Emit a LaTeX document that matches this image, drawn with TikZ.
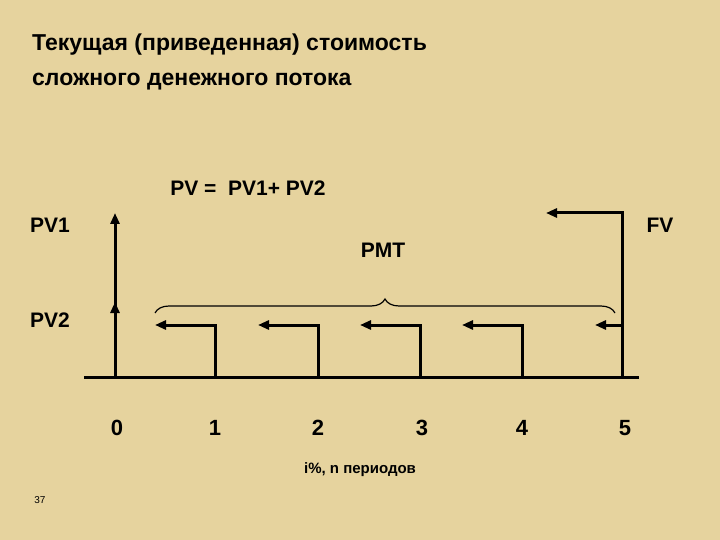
\documentclass[tikz,border=0pt]{standalone}
\usepackage{fontspec}
\setmainfont{Liberation Sans}
\usetikzlibrary{arrows.meta,decorations.pathreplacing}
\definecolor{bg}{RGB}{230,211,158}
\begin{document}
\begin{tikzpicture}[x=1pt,y=-1pt,font=\bfseries,
  ln/.style={line width=3pt,line cap=rect},
  ar/.style={line width=3pt,-{Triangle[length=11pt,width=9pt]}},
  lbl/.style={font=\bfseries\fontsize{21}{24}\selectfont,inner sep=0pt},
  tick/.style={font=\bfseries\fontsize{22}{24}\selectfont,inner sep=0pt}]
\fill[bg] (0,0) rectangle (720,540);
\useasboundingbox (0,0) rectangle (720,540);
\node[anchor=west,align=left,font=\bfseries\fontsize{23}{35}\selectfont,inner sep=0pt] (title) at (32,62) {Текущая (приведенная) стоимость\\сложного денежного потока};
\node[lbl] (pv) at (248,188) {PV =\ \ PV1+ PV2};
\node[lbl,anchor=west] (pv1) at (30,225) {PV1};
\node[lbl,anchor=west] (pv2) at (30,320) {PV2};
\node[lbl] (fv) at (660,225) {FV};
\node[lbl] (pmt) at (383,250) {PMT};
\coordinate (a0) at (85,377); \coordinate (a1) at (637,377);
\draw[ln] (a0) -- (a1);
\coordinate (b0) at (115,377); \coordinate (t1) at (115,213); \coordinate (t2) at (115,302);
\draw[ar] (b0) -- (t1);
\draw[ar] (b0) -- (t2);
\foreach \x/\e [count=\i] in {215/155,318/258,420/360,522/462} {
  \coordinate (s\i) at (\x,377); \coordinate (c\i) at (\x,325); \coordinate (e\i) at (\e,325);
  \draw[ar] (s\i) -- (c\i) -- (e\i);
}
\coordinate (s5) at (622,377); \coordinate (c5) at (622,213); \coordinate (e5) at (546,213);
\draw[ar] (s5) -- (c5) -- (e5);
\coordinate (d5) at (622,325); \coordinate (f5) at (595,325);
\draw[ar] (d5) -- (f5);
\coordinate (br0) at (155,313); \coordinate (br1) at (615,313);
\draw[line width=1.2pt,decorate,decoration={brace,amplitude=14pt}] (br0) -- (br1);
\foreach \x/\t in {117/0,215/1,318/2,422/3,522/4,625/5}
  \node[tick] (n\t) at (\x,428) {\t};
\node[font=\bfseries\fontsize{15}{18}\selectfont,inner sep=0pt] (per) at (360,470) {i\%, n периодов};
\node[font=\fontsize{10}{12}\selectfont,inner sep=0pt] (pg) at (40,500) {37};
\end{tikzpicture}
\end{document}
